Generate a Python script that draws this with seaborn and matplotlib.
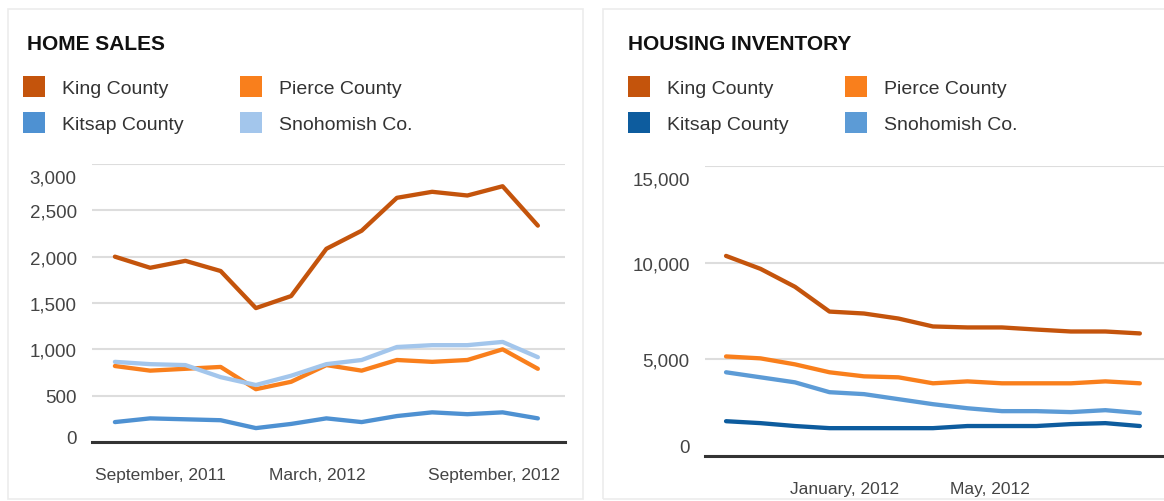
import seaborn as sns
import matplotlib.pyplot as plt
import matplotlib.transforms as mtransforms
import pandas as pd
from matplotlib.patches import Patch, Rectangle
from matplotlib.ticker import FuncFormatter

# monthly points, Sep 2011 - Sep 2012
months = ["Sep 2011", "Oct 2011", "Nov 2011", "Dec 2011", "Jan 2012", "Feb 2012",
          "Mar 2012", "Apr 2012", "May 2012", "Jun 2012", "Jul 2012", "Aug 2012", "Sep 2012"]
counties = ["King County", "Kitsap County", "Pierce County", "Snohomish Co."]

# home sales
sales_king = [2000, 1880, 1955, 1845, 1445, 1575, 2085, 2280, 2635, 2700, 2660, 2760, 2335]
sales_kitsap = [215, 255, 245, 235, 150, 195, 255, 215, 280, 320, 300, 320, 255]
sales_pierce = [820, 770, 790, 810, 570, 650, 830, 770, 885, 865, 885, 1000, 790]
sales_snohomish = [865, 840, 830, 700, 615, 715, 840, 885, 1025, 1045, 1045, 1080, 915]

# housing inventory
inv_king = [10350, 9680, 8750, 7470, 7370, 7110, 6700, 6650, 6650, 6540, 6440, 6440, 6340]
inv_kitsap = [1800, 1700, 1550, 1440, 1440, 1440, 1440, 1550, 1550, 1550, 1650, 1700, 1550]
inv_pierce = [5150, 5050, 4740, 4330, 4120, 4070, 3760, 3860, 3760, 3760, 3760, 3860, 3760]
inv_snohomish = [4330, 4070, 3810, 3300, 3200, 2940, 2680, 2470, 2320, 2320, 2270, 2370, 2220]

sales_ticks = ["September, 2011", "March, 2012", "September, 2012"]
inv_ticks = ["January, 2012", "May, 2012"]

sales_colors = {"King County": "#C4540C", "Pierce County": "#F97F1C",
                "Kitsap County": "#4E91D2", "Snohomish Co.": "#A3C6EC"}
inv_colors = {"King County": "#C4540C", "Pierce County": "#F97F1C",
              "Kitsap County": "#0D5C9E", "Snohomish Co.": "#5C9BD6"}


def long_df(series):
    rows = []
    for county, vals in zip(counties, series):
        for i, v in enumerate(vals):
            rows.append({"idx": i, "month": months[i], "county": county, "value": v})
    return pd.DataFrame(rows)


sales = long_df([sales_king, sales_kitsap, sales_pierce, sales_snohomish])
inv = long_df([inv_king, inv_kitsap, inv_pierce, inv_snohomish])

sns.set_style("white")
plt.rcParams["font.family"] = ["Liberation Sans", "DejaVu Sans"]

W, H = 1164, 502
fig = plt.figure(figsize=(W / 100, H / 100), dpi=100)
fig.patch.set_facecolor("white")


def px(x, y):
    # pixel (from top-left) -> figure fraction
    return x / W, 1 - y / H


# card borders
for x0, x1 in [(8, 583), (603, 1170)]:
    fig.add_artist(Rectangle(px(x0, 500), (x1 - x0) / W, 490 / H, transform=fig.transFigure,
                             facecolor="none", edgecolor="#ececec", linewidth=1.2))

ax1 = fig.add_axes([92 / W, 1 - 443 / H, (565 - 92) / W, (443 - 165) / H])
ax2 = fig.add_axes([705 / W, 1 - 457 / H, (1164 - 705) / W, (457 - 167) / H])

sns.lineplot(data=sales, x="idx", y="value", hue="county", palette=sales_colors,
             linewidth=3.1, legend=False, ax=ax1)
sns.lineplot(data=inv, x="idx", y="value", hue="county", palette=inv_colors,
             linewidth=3.1, legend=False, ax=ax2)

ax1.set_ylim(0, 3000)
ax1.set_yticks(range(0, 3001, 500))
ax1.set_xlim(-0.65, 12.77)
ax1.set_xticks([1.3, 5.75, 10.75])
ax1.set_xticklabels(sales_ticks)

ax2.set_ylim(0, 15000)
ax2.set_yticks(range(0, 15001, 5000))
ax2.set_xlim(-0.61, 12.7)
ax2.set_xticks([3.45, 7.65])
ax2.set_xticklabels(inv_ticks)

fmt = FuncFormatter(lambda v, p: f"{int(v):,}")
for ax, low in ((ax1, 0.05), (ax2, 0.1)):
    ax.yaxis.set_major_formatter(fmt)
    ax.set_xlabel("")
    ax.set_ylabel("")
    ax.grid(axis="y", color="#dddddd", linewidth=1.5)
    ax.set_axisbelow(True)
    for s in ("top", "right", "left"):
        ax.spines[s].set_visible(False)
    ax.spines["bottom"].set_color("#333333")
    ax.spines["bottom"].set_linewidth(2.2)
    ax.spines["bottom"].set_zorder(5)
    ax.tick_params(axis="y", length=0, pad=11, labelsize=13.5, labelcolor="#444444")
    ax.tick_params(axis="x", length=0, pad=18, labelsize=12.5, labelcolor="#444444")
    ax.set_facecolor("none")
    # the original pushes the end labels inside the chart area
    top = ax.get_yticklabels()[-1]
    top.set_transform(top.get_transform() + mtransforms.ScaledTranslation(0, -0.12, fig.dpi_scale_trans))
    bottom = ax.get_yticklabels()[0]
    bottom.set_transform(bottom.get_transform() + mtransforms.ScaledTranslation(0, low, fig.dpi_scale_trans))

# titles
fig.text(*px(27, 45), "HOME SALES", fontsize=15, fontweight="bold", color="#111111", va="center")
fig.text(*px(628, 45), "HOUSING INVENTORY", fontsize=15, fontweight="bold", color="#111111", va="center")

# legends
for colors, x0 in [(sales_colors, 23), (inv_colors, 628)]:
    handles = [Patch(facecolor=colors[c], edgecolor="none", label=c) for c in counties]
    fig.legend(handles=handles, ncol=2, loc="upper left", bbox_to_anchor=px(x0, 77),
               bbox_transform=fig.transFigure, frameon=False, fontsize=14,
               handlelength=1.15, handleheight=1.25, handletextpad=0.85,
               labelspacing=0.8, columnspacing=2.9, borderpad=0, borderaxespad=0,
               labelcolor="#333333")

fig.savefig("out.png", dpi=100)
